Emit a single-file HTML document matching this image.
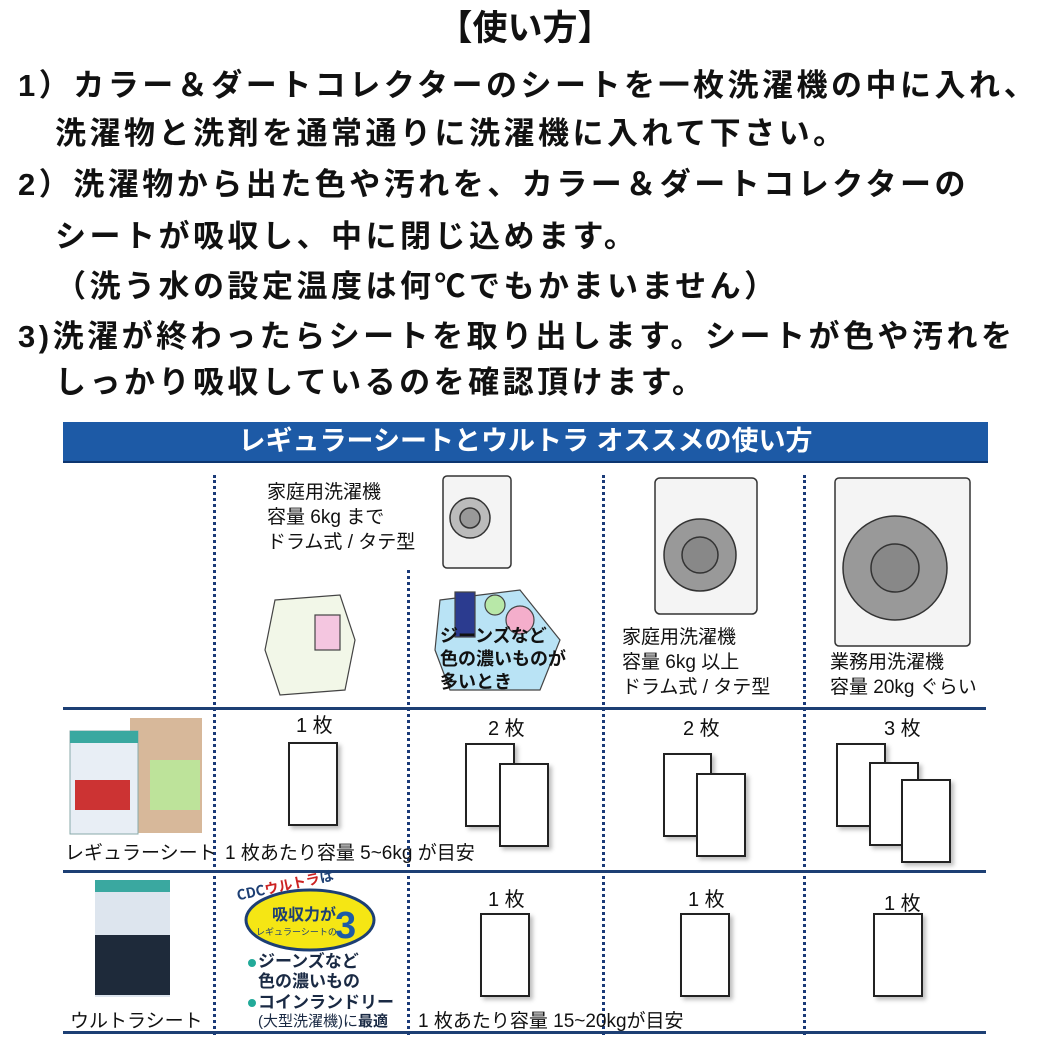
<!DOCTYPE html>
<html><head><meta charset="utf-8">
<style>
body{margin:0;background:#fff;width:1050px;height:1050px;position:relative;overflow:hidden;font-family:"Liberation Sans","Noto Sans CJK JP",sans-serif;}
.t{position:absolute;white-space:nowrap;font-weight:bold;font-size:31px;letter-spacing:3.5px;color:#111;line-height:1;}
.s{position:absolute;white-space:nowrap;font-size:19px;color:#111;line-height:1.25;}
.sheet{position:absolute;background:#fff;border:2px solid #222;box-shadow:3px 3px 4px rgba(0,0,0,.25);box-sizing:border-box;}
.vl{position:absolute;border-left:3px dotted #1a3a78;width:0;}
.hl{position:absolute;left:63px;width:923px;height:3px;background:#1d3f74;}
</style></head><body>
<div class="t" style="left:0;width:1050px;text-align:center;top:11px;font-size:35px;letter-spacing:0">【使い方】</div>
<div class="t" style="left:18px;top:70px">1）カラー＆ダートコレクターのシートを一枚洗濯機の中に入れ、</div>
<div class="t" style="left:55px;top:118px">洗濯物と洗剤を通常通りに洗濯機に入れて下さい。</div>
<div class="t" style="left:18px;top:169px">2）洗濯物から出た色や汚れを、カラー＆ダートコレクターの</div>
<div class="t" style="left:55px;top:221px">シートが吸収し、中に閉じ込めます。</div>
<div class="t" style="left:55px;top:271px">（洗う水の設定温度は何℃でもかまいません）</div>
<div class="t" style="left:18px;top:321px">3)洗濯が終わったらシートを取り出します。シートが色や汚れを</div>
<div class="t" style="left:55px;top:367px">しっかり吸収しているのを確認頂けます。</div>

<div style="position:absolute;left:63px;top:422px;width:925px;height:39px;background:#1d5aa6;border-bottom:2px solid #0d3670;color:#fff;font-weight:bold;font-size:27px;text-align:center;line-height:39px;">レギュラーシートとウルトラ オススメの使い方</div>

<div class="vl" style="left:213px;top:475px;height:560px"></div>
<div class="vl" style="left:407px;top:570px;height:465px"></div>
<div class="vl" style="left:602px;top:475px;height:560px"></div>
<div class="vl" style="left:803px;top:475px;height:560px"></div>
<div class="hl" style="top:707px"></div>
<div class="hl" style="top:870px"></div>
<div class="hl" style="top:1031px"></div>

<div class="s" style="left:267px;top:480px;line-height:25px">家庭用洗濯機<br>容量 6kg まで<br>ドラム式 / タテ型</div>
<div class="s" style="left:622px;top:625px;line-height:25px">家庭用洗濯機<br>容量 6kg 以上<br>ドラム式 / タテ型</div>
<div class="s" style="left:830px;top:650px;line-height:25px">業務用洗濯機<br>容量 20kg ぐらい</div>

<svg style="position:absolute;left:0;top:0" width="1050" height="1050">
<g fill="#f4f4f4" stroke="#333" stroke-width="1.5">
<rect x="443" y="476" width="68" height="92" rx="4"/>
<circle cx="470" cy="518" r="20" fill="#bbb"/><circle cx="470" cy="518" r="10" fill="#999"/>
<rect x="655" y="478" width="102" height="136" rx="5"/>
<circle cx="700" cy="555" r="36" fill="#999"/><circle cx="700" cy="555" r="18" fill="#888"/>
<rect x="835" y="478" width="135" height="168" rx="4"/>
<circle cx="895" cy="568" r="52" fill="#999"/><circle cx="895" cy="568" r="24" fill="#888"/>
</g>
<g stroke="#444" stroke-width="1.2">
<path d="M275 600 L340 595 L355 640 L345 690 L280 695 L265 650 Z" fill="#f2f7e8"/>
<rect x="315" y="615" width="25" height="35" fill="#f4c6e0"/>
<path d="M440 600 L520 590 L560 640 L540 690 L450 690 L435 650 Z" fill="#b9e3f5"/>
<rect x="455" y="592" width="20" height="45" fill="#2b3b8f"/>
<circle cx="520" cy="620" r="14" fill="#f4aecb"/>
<circle cx="495" cy="605" r="10" fill="#b8e8a8"/>
</g>
<rect x="130" y="718" width="72" height="115" fill="#d7b89a"/>
<rect x="70" y="731" width="68" height="103" fill="#e8eef5" stroke="#8aa"/>
<rect x="70" y="731" width="68" height="12" fill="#3aa8a0"/>
<rect x="75" y="780" width="55" height="30" fill="#c33"/>
<rect x="150" y="760" width="50" height="50" fill="#bde39a"/>
<rect x="95" y="880" width="75" height="117" fill="#dde5ee"/>
<rect x="95" y="880" width="75" height="12" fill="#3aa8a0"/>
<rect x="95" y="935" width="75" height="60" fill="#1e2a3a"/>
<ellipse cx="310" cy="920" rx="64" ry="30" fill="#f5e614" stroke="#1d3f74" stroke-width="3"/>
<text x="272" y="920" font-size="16" font-weight="bold" fill="#1d3f74" font-family="Noto Sans CJK JP">吸収力が</text>
<text x="256" y="935" font-size="9" fill="#1d3f74" font-family="Noto Sans CJK JP">レギュラーシートの</text>
<text x="335" y="938" font-size="38" font-weight="bold" fill="#1d5aa6" font-family="Liberation Sans">3</text>
<text x="238" y="900" font-size="14" font-weight="bold" fill="#1d3f74" font-family="Noto Sans CJK JP" transform="rotate(-12 240 900)">CDC<tspan fill="#c22">ウルトラ</tspan>は</text>
<circle cx="252" cy="963" r="4" fill="#2a9"/><circle cx="252" cy="1003" r="4" fill="#2a9"/>
</svg>
<div class="s" style="left:258px;top:952px;font-weight:bold;font-size:17px;line-height:20px;color:#1a2a44">ジーンズなど<br>色の濃いもの</div>
<div class="s" style="left:258px;top:992px;font-weight:bold;font-size:17px;color:#1a2a44">コインランドリー</div>
<div class="s" style="left:258px;top:1013px;font-size:15px;color:#1a2a44">(大型洗濯機)に<b>最適</b></div>
<div class="s" style="left:440px;top:625px;font-weight:bold;font-size:18px;line-height:23px">ジーンズなど<br>色の濃いものが<br>多いとき</div>

<div class="s" style="left:296px;top:714px;font-size:20px">1 枚</div>
<div class="s" style="left:488px;top:717px;font-size:20px">2 枚</div>
<div class="s" style="left:683px;top:717px;font-size:20px">2 枚</div>
<div class="s" style="left:884px;top:717px;font-size:20px">3 枚</div>
<div class="s" style="left:65px;top:842px">レギュラーシート</div>
<div class="s" style="left:225px;top:842px">1 枚あたり容量 5~6kg が目安</div>
<div class="s" style="left:488px;top:888px;font-size:20px">1 枚</div>
<div class="s" style="left:688px;top:888px;font-size:20px">1 枚</div>
<div class="s" style="left:884px;top:892px;font-size:20px">1 枚</div>
<div class="s" style="left:70px;top:1010px">ウルトラシート</div>
<div class="s" style="left:418px;top:1010px">1 枚あたり容量 15~20kgが目安</div>

<div class="sheet" style="left:288px;top:742px;width:50px;height:84px"></div>
<div class="sheet" style="left:465px;top:743px;width:50px;height:84px"></div>
<div class="sheet" style="left:499px;top:763px;width:50px;height:84px"></div>
<div class="sheet" style="left:663px;top:753px;width:49px;height:84px"></div>
<div class="sheet" style="left:696px;top:773px;width:50px;height:84px"></div>
<div class="sheet" style="left:836px;top:743px;width:50px;height:84px"></div>
<div class="sheet" style="left:869px;top:762px;width:50px;height:84px"></div>
<div class="sheet" style="left:901px;top:779px;width:50px;height:84px"></div>
<div class="sheet" style="left:480px;top:913px;width:50px;height:84px"></div>
<div class="sheet" style="left:680px;top:913px;width:50px;height:84px"></div>
<div class="sheet" style="left:873px;top:913px;width:50px;height:84px"></div>
</body></html>
